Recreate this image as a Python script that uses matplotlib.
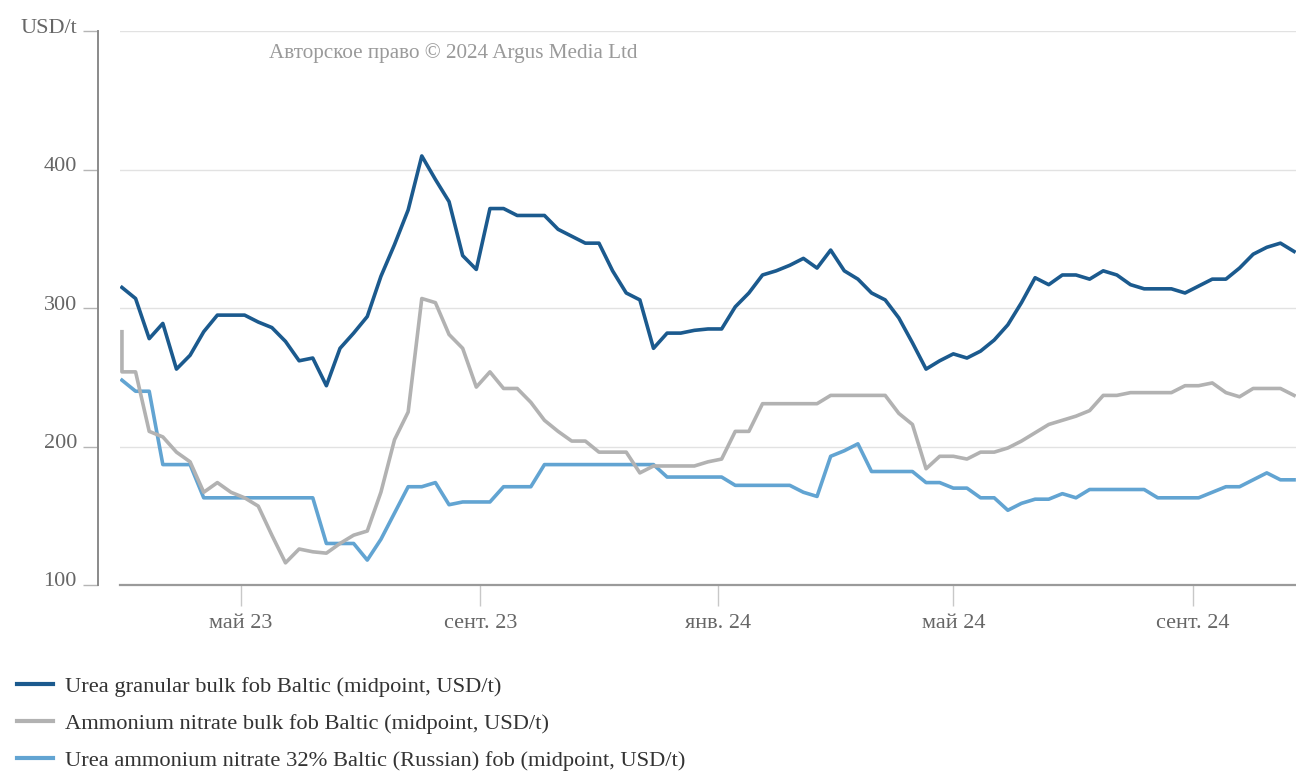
import matplotlib

matplotlib.use("Agg")

import matplotlib.pyplot as plt
import pandas as pd
from matplotlib.lines import Line2D
from matplotlib.transforms import ScaledTranslation

plt.rcParams["font.family"] = ["Liberation Serif", "DejaVu Serif"]

# weekly assessments, first one 1 March 2023
START = "2023-03-01"

urea = [
    315, 307, 278, 289, 256, 266, 283, 295, 295, 295, 290, 286, 276, 262, 264,
    244, 271, 282, 294, 323, 346, 371, 410, 393, 377, 338, 328, 372, 372, 367,
    367, 367, 357, 352, 347, 347, 327, 311, 306, 271, 282, 282, 284, 285, 285,
    301, 311, 324, 327, 331, 336, 329, 342, 327, 321, 311, 306, 293, 275, 256,
    262, 267, 264, 269, 277, 288, 304, 322, 317, 324, 324, 321, 327, 324, 317,
    314, 314, 314, 311, 316, 321, 321, 329, 339, 344, 347, 341,
]

# first value is an opening print on the same date as the first weekly one
an_open = 283
an = [
    254, 254, 211, 207, 196, 189, 167, 174, 167, 163, 157, 136, 116, 126, 124,
    123, 130, 136, 139, 167, 205, 225, 307, 304, 281, 271, 243, 254, 242, 242,
    232, 219, 211, 204, 204, 196, 196, 196, 181, 186, 186, 186, 186, 189, 191,
    211, 211, 231, 231, 231, 231, 231, 237, 237, 237, 237, 237, 224, 216, 184,
    193, 193, 191, 196, 196, 199, 204, 210, 216, 219, 222, 226, 237, 237, 239,
    239, 239, 239, 244, 244, 246, 239, 236, 242, 242, 242, 237,
]

uan = [
    248, 240, 240, 187, 187, 187, 163, 163, 163, 163, 163, 163, 163, 163, 163,
    130, 130, 130, 118, 133, 152, 171, 171, 174, 158, 160, 160, 160, 171, 171,
    171, 187, 187, 187, 187, 187, 187, 187, 187, 187, 178, 178, 178, 178, 178,
    172, 172, 172, 172, 172, 167, 164, 193, 197, 202, 182, 182, 182, 182, 174,
    174, 170, 170, 163, 163, 154, 159, 162, 162, 166, 163, 169, 169, 169, 169,
    169, 163, 163, 163, 163, 167, 171, 171, 176, 181, 176, 176,
]

labels = [
    "Urea granular bulk fob Baltic (midpoint, USD/t)",
    "Ammonium nitrate bulk fob Baltic (midpoint, USD/t)",
    "Urea ammonium nitrate 32% Baltic (Russian) fob (midpoint, USD/t)",
]
colors = ["#1b5a8e", "#b2b2b2", "#62a4d2"]

tick_dates = ["2023-05-01", "2023-09-01", "2024-01-01", "2024-05-01", "2024-09-01"]
tick_labels = ["май 23", "сент. 23", "янв. 24", "май 24", "сент. 24"]
y_ticks = [100, 200, 300, 400, 500]
y_tick_labels = ["100", "200", "300", "400", "USD/t"]

dates = pd.date_range(START, periods=len(urea), freq="7D")
an_dates = [dates[0]] + list(dates)

fig = plt.figure(figsize=(12.96, 7.78), dpi=100)
ax = fig.add_axes([120 / 1296, 1 - 585 / 778, 1 - 120 / 1296, (585 - 31.4) / 778])

ax.plot(dates, uan, color=colors[2], lw=2.6, solid_joinstyle="round", zorder=3)
ax.plot(an_dates, [an_open] + an, color=colors[1], lw=2.6, solid_joinstyle="round", zorder=3)
ax.plot(dates, urea, color=colors[0], lw=2.6, solid_joinstyle="round", zorder=4)

ax.set_ylim(100, 500)
ax.set_xlim(pd.Timestamp("2023-02-28"), pd.Timestamp("2024-10-24"))

ax.set_yticks(y_ticks)
ax.set_yticklabels(y_tick_labels)
ax.set_xticks(pd.to_datetime(tick_dates))
ax.set_xticklabels(tick_labels)

ax.grid(axis="y", color="#e2e2e2", lw=1.0)
ax.set_axisbelow(True)

for side in ["top", "right"]:
    ax.spines[side].set_visible(False)
ax.spines["left"].set_position(("outward", 16))
ax.spines["left"].set_color("#8a8a8a")
ax.spines["left"].set_linewidth(1.4)
ax.spines["bottom"].set_color("#9a9a9a")
ax.spines["bottom"].set_linewidth(1.6)

ax.tick_params(axis="y", length=11, width=1.0, color="#b5b5b5", pad=4,
               labelsize=16, labelcolor="#666666")
ax.tick_params(axis="x", length=15, width=1.0, color="#c8c8c8", pad=6,
               labelsize=16, labelcolor="#666666")

# labels sit slightly above their ticks
for lab in ax.get_yticklabels():
    lab.set_transform(lab.get_transform() + ScaledTranslation(0, 4 / 72, fig.dpi_scale_trans))

fig.text(453 / 1296, 1 - 53 / 778, "Авторское право © 2024 Argus Media Ltd",
         ha="center", va="center", fontsize=15.2, color="#9a9a9a")

handles = [Line2D([0], [0], color=c, lw=3) for c in colors]
fig.legend(handles, labels, loc="upper left", bbox_to_anchor=(17 / 1296, 1 - 676 / 778),
           frameon=False, fontsize=16.2, handlelength=1.6, handletextpad=0.54,
           labelspacing=0.72, borderpad=0, borderaxespad=0, labelcolor="#333333")

fig.savefig("out.png", dpi=100)
